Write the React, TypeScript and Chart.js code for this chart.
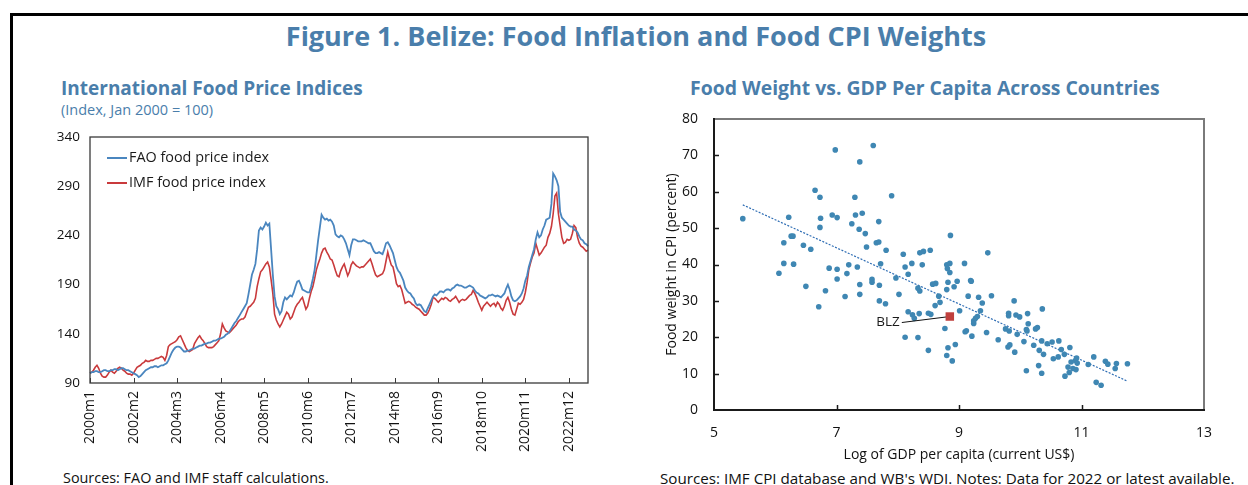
import React, { useEffect, useRef } from "react";
import { Chart, registerables } from "chart.js";

Chart.register(...registerables);

const FONT = "'Open Sans', 'Noto Sans', sans-serif";
const TITLE_BLUE = "#4a7eab";
const FAO_COLOR = "#4a86bf";
const IMF_COLOR = "#c93a3c";
const DOT_COLOR = "#3f87b3";
const TREND_COLOR = "#2e6db4";
const BLZ_COLOR = "#c0403d";

// ---------- Left chart: monthly indices, Jan 2000 = 100 ----------
const yearsCovered = [2000, 2001, 2002, 2003, 2004, 2005, 2006, 2007, 2008, 2009, 2010, 2011, 2012, 2013, 2014, 2015, 2016, 2017, 2018, 2019, 2020, 2021, 2022, 2023];

const faoIndex = [
  100, 101, 101, 102, 102, 101, 101, 102, 103, 103, 102, 102,
  103, 103, 104, 104, 103, 104, 105, 105, 104, 103, 103, 102,
  101, 100, 99, 98, 96, 97, 99, 101, 103, 104, 105, 106,
  106, 107, 107, 106, 107, 108, 108, 109, 110, 113, 117, 121,
  124, 126, 127, 127, 126, 124, 122, 122, 123, 123, 124, 125,
  125, 126, 127, 128, 128, 129, 130, 130, 131, 131, 132, 133,
  133, 134, 135, 135, 136, 137, 139, 140, 142, 145, 148, 151,
  153, 156, 159, 162, 165, 168, 171, 180, 190, 200, 205, 211,
  226, 245, 248, 246, 249, 253, 250, 252, 226, 200, 178, 168,
  165, 160, 163, 172, 177, 175, 177, 179, 178, 182, 188, 193,
  194, 190, 185, 184, 183, 182, 182, 188, 196, 205, 220, 235,
  248, 261, 258, 256, 257, 255, 256, 254, 250, 241, 239, 238,
  240, 239, 236, 232, 226, 220, 230, 236, 236, 235, 234, 234,
  234, 235, 234, 233, 232, 232, 228, 224, 222, 222, 223, 222,
  221, 226, 232, 233, 230, 226, 222, 215, 208, 204, 202, 198,
  194, 187, 184, 182, 181, 178, 176, 171, 169, 170, 169, 166,
  163, 162, 166, 170, 174, 178, 180, 179, 181, 183, 183, 182,
  184, 185, 185, 184, 186, 187, 189, 190, 189, 189, 188, 187,
  187, 188, 189, 188, 187, 184, 182, 181, 179, 178, 177, 176,
  177, 179, 179, 180, 179, 178, 179, 178, 177, 179, 181, 186,
  190, 185, 178, 174, 173, 174, 176, 178, 181, 186, 194, 199,
  208, 214, 220, 226, 236, 243, 238, 240, 246, 250, 256, 257,
  258, 272, 303, 300, 296, 290, 264, 258, 256, 254, 252, 250,
  249, 249, 246, 245, 243, 239, 236, 235, 232, 231, 229,
];

const imfIndex = [
  100, 101, 103, 106, 108, 105, 100, 97, 96, 96, 98, 101,
  103, 101, 100, 102, 105, 106, 105, 103, 102, 100, 99, 99,
  98, 100, 103, 106, 107, 108, 110, 111, 113, 112, 112, 113,
  113, 114, 115, 115, 116, 117, 116, 113, 118, 127, 129, 130,
  131, 132, 134, 137, 138, 134, 130, 126, 123, 122, 123, 124,
  130, 133, 136, 138, 135, 133, 130, 127, 126, 126, 126, 127,
  129, 131, 133, 140, 150, 146, 143, 142, 141, 143, 145, 147,
  149, 152, 154, 155, 155, 157, 162, 167, 168, 170, 172, 176,
  188, 196, 203, 205, 208, 211, 213, 208, 195, 181, 160, 154,
  150, 147, 150, 154, 158, 162, 160, 155, 157, 162, 167, 170,
  172, 175, 177, 171, 165, 168, 176, 183, 188, 196, 205, 211,
  216, 222, 226, 227, 223, 220, 216, 215, 210, 204, 199, 198,
  204, 208, 211, 205, 199, 203, 210, 213, 211, 209, 208, 207,
  208, 208, 210, 212, 214, 216, 211, 205, 200, 198, 199, 200,
  201, 205, 214, 223, 216, 210, 208, 200, 191, 188, 189, 185,
  178, 171, 172, 173, 172, 170, 169, 167, 166, 165, 163, 161,
  159, 159, 161, 165, 170, 177, 176, 174, 172, 174, 176, 175,
  177, 176, 174, 173, 175, 176, 178, 175, 172, 174, 175, 174,
  175, 177, 179, 180, 184, 181, 177, 172, 168, 164, 168, 170,
  172, 170, 168, 170, 171, 168, 172, 170, 166, 164, 168, 174,
  177, 172, 165, 160, 159, 165, 171, 170, 172, 175, 182, 192,
  205, 212, 218, 222, 232, 226, 220, 222, 225, 228, 230, 238,
  242, 249, 262, 280, 283, 262, 250, 238, 232, 233, 236, 235,
  236, 242, 250, 248, 238, 232, 229, 228, 226, 224, 225,
];

const monthLabels: string[] = [];
yearsCovered.forEach((yr) => {
  for (let m = 1; m <= 12; m++) monthLabels.push(`${yr}m${m}`);
});
monthLabels.length = faoIndex.length;
const labelEvery = 25;
const leftYTicks = [90, 140, 190, 240, 290, 340];

// ---------- Right chart: food CPI weight vs log GDP per capita ----------
const gdpLog = [
  5.47, 6.98, 7.60, 7.38, 6.65, 6.73, 7.30, 7.90, 6.22, 6.74,
  6.93, 7.01, 7.31, 7.42, 6.73, 7.25, 7.69, 7.37, 7.47, 6.14,
  6.26, 6.29, 6.46, 6.58, 7.49, 7.65, 7.69, 7.81, 6.14, 6.30,
  6.88, 7.01, 7.20, 7.34, 7.72, 8.09, 8.12, 8.23, 8.36, 8.42,
  8.53, 8.40, 8.80, 8.85, 8.81, 8.86, 9.09, 9.47, 6.06, 6.50,
  6.82, 7.01, 7.17, 7.38, 7.38, 7.14, 6.71, 7.58, 7.58, 7.70,
  7.70, 7.80, 7.97, 8.02, 8.17, 8.33, 8.36, 8.17, 8.24, 8.27,
  8.35, 8.50, 8.54, 8.12, 8.33, 8.50, 8.61, 8.69, 8.57, 8.62,
  8.67, 8.80, 8.82, 8.85, 8.92, 8.97, 9.01, 8.77, 8.82, 8.80,
  8.89, 8.94, 9.10, 9.12, 9.21, 9.15, 9.19, 9.20, 9.24, 9.24,
  9.27, 9.30, 9.32, 9.53, 9.38, 9.35, 9.45, 9.64, 9.76, 9.81,
  9.81, 9.90, 9.93, 9.99, 9.82, 9.95, 9.80, 9.83, 9.91, 10.06,
  10.12, 10.10, 10.11, 10.25, 10.28, 10.22, 10.31, 10.30, 10.10, 10.13,
  10.36, 10.35, 10.35, 10.44, 10.52, 10.63, 10.38, 10.54, 10.62, 10.67,
  10.72, 10.81, 10.78, 10.80, 10.73, 10.83, 10.86, 10.91, 10.90, 10.92,
  10.93, 11.11, 11.20, 11.24, 11.32, 11.39, 11.43, 11.55, 11.57, 11.75,
];
const foodWeight = [
  52.6, 71.5, 72.7, 68.2, 60.4, 58.5, 58.5, 58.9, 53.0, 52.7,
  53.6, 52.9, 53.6, 54.1, 50.2, 51.2, 51.8, 49.7, 48.5, 46.0,
  47.8, 47.8, 45.3, 44.2, 44.8, 46.0, 46.2, 43.9, 40.3, 40.1,
  39.0, 38.7, 39.9, 39.3, 40.2, 42.8, 39.3, 40.3, 43.2, 43.6,
  43.9, 39.9, 39.9, 40.3, 38.9, 48.0, 40.3, 43.2, 37.6, 34.0,
  32.8, 36.0, 37.5, 34.5, 31.8, 31.2, 28.4, 35.9, 35.1, 34.3,
  30.0, 29.2, 36.3, 31.8, 37.3, 33.5, 32.7, 27.0, 26.2, 25.2,
  26.5, 26.6, 26.3, 20.0, 19.9, 16.4, 28.7, 29.6, 34.6, 34.8,
  31.3, 33.1, 35.1, 37.8, 33.9, 35.4, 27.3, 22.4, 17.1, 15.0,
  13.5, 18.0, 21.5, 21.8, 20.3, 31.3, 35.6, 35.4, 23.8, 24.5,
  25.2, 25.7, 31.0, 31.4, 29.4, 27.3, 21.3, 19.3, 22.3, 26.6,
  25.9, 30.0, 26.1, 25.6, 21.7, 20.8, 17.3, 17.9, 15.9, 18.8,
  26.5, 22.1, 21.7, 22.3, 22.7, 17.8, 16.4, 12.2, 10.8, 23.7,
  27.8, 10.1, 19.0, 18.2, 18.7, 19.0, 15.3, 14.1, 14.6, 16.6,
  15.3, 17.2, 11.8, 10.3, 9.3, 13.2, 11.4, 11.1, 13.6, 14.3,
  12.9, 12.5, 14.6, 7.6, 6.8, 13.4, 12.6, 11.4, 12.8, 12.7,
];
const trendX = [5.47, 11.74];
const trendY = [56.4, 8.0];
const blzLabel = "BLZ";
const blzX = 8.85;
const blzY = 25.7;

// ---------- plugins ----------
const leftDecor = {
  id: "leftDecor",
  afterDraw(chart: any) {
    const { ctx, chartArea } = chart;
    const xs = chart.scales.x;
    ctx.save();
    ctx.strokeStyle = "#3a3a3a";
    ctx.lineWidth = 1.3;
    ctx.strokeRect(chartArea.left, chartArea.top, chartArea.right - chartArea.left, chartArea.bottom - chartArea.top);
    ctx.lineWidth = 1;
    ctx.beginPath();
    for (let i = 0; i < monthLabels.length; i += labelEvery) {
      const px = Math.round(xs.getPixelForValue(i)) + 0.5;
      ctx.moveTo(px, chartArea.bottom);
      ctx.lineTo(px, chartArea.bottom - 5);
    }
    ctx.stroke();
    // legend
    const ds = chart.data.datasets;
    ctx.font = `14.4px ${FONT}`;
    ctx.textBaseline = "middle";
    ds.forEach((d: any, k: number) => {
      const y = chartArea.top + 21 + k * 25;
      const x0 = chartArea.left + 17;
      ctx.strokeStyle = d.borderColor;
      ctx.lineWidth = 2;
      ctx.beginPath();
      ctx.moveTo(x0, y);
      ctx.lineTo(x0 + 20, y);
      ctx.stroke();
      ctx.fillStyle = "#1a1a1a";
      ctx.fillText(d.label, x0 + 22, y);
    });
    ctx.restore();
  },
};

const rightDecor = {
  id: "rightDecor",
  afterDraw(chart: any) {
    const { ctx, chartArea } = chart;
    const xs = chart.scales.x;
    const ys = chart.scales.y;
    ctx.save();
    ctx.strokeStyle = "#7a7a7a";
    ctx.lineWidth = 2;
    ctx.beginPath();
    ctx.moveTo(chartArea.left, chartArea.top);
    ctx.lineTo(chartArea.right, chartArea.top);
    ctx.lineTo(chartArea.right, chartArea.bottom);
    ctx.stroke();
    ctx.strokeStyle = "#1a1a1a";
    ctx.beginPath();
    ctx.moveTo(chartArea.left, chartArea.top - 1);
    ctx.lineTo(chartArea.left, chartArea.bottom);
    ctx.lineTo(chartArea.right + 1, chartArea.bottom);
    ctx.stroke();
    ctx.lineWidth = 1.5;
    ctx.beginPath();
    ys.ticks.forEach((t: any) => {
      if (t.value <= ys.min || t.value >= ys.max) return;
      const py = Math.round(ys.getPixelForValue(t.value)) + 0.5;
      ctx.moveTo(chartArea.left, py);
      ctx.lineTo(chartArea.left + 5, py);
    });
    xs.ticks.forEach((t: any) => {
      if (t.value <= xs.min || t.value >= xs.max) return;
      const px = Math.round(xs.getPixelForValue(t.value)) + 0.5;
      ctx.moveTo(px, chartArea.bottom);
      ctx.lineTo(px, chartArea.bottom - 5);
    });
    ctx.stroke();
    // BLZ label
    const bx = xs.getPixelForValue(blzX);
    const by = ys.getPixelForValue(blzY);
    ctx.strokeStyle = "#111";
    ctx.lineWidth = 1;
    ctx.beginPath();
    ctx.moveTo(bx - 48, by + 6);
    ctx.lineTo(bx - 4, by + 0.5);
    ctx.stroke();
    ctx.font = `13.5px ${FONT}`;
    ctx.fillStyle = "#1a1a1a";
    ctx.textAlign = "right";
    ctx.textBaseline = "middle";
    ctx.fillText(blzLabel, bx - 50, by + 6);
    ctx.restore();
  },
};

const noOverflow = (s: any) => {
  s.paddingTop = 0;
  s.paddingBottom = 0;
  s.paddingLeft = 0;
  s.paddingRight = 0;
};

function LeftChart() {
  const ref = useRef<HTMLCanvasElement>(null);
  useEffect(() => {
    if (!ref.current) return;
    const chart = new Chart(ref.current, {
      type: "line",
      data: {
        labels: monthLabels,
        datasets: [
          { label: "FAO food price index", data: faoIndex, borderColor: FAO_COLOR, borderWidth: 1.8, pointRadius: 0, fill: false, tension: 0 },
          { label: "IMF food price index", data: imfIndex, borderColor: IMF_COLOR, borderWidth: 1.6, pointRadius: 0, fill: false, tension: 0 },
        ],
      },
      options: {
        animation: false,
        responsive: false,
        maintainAspectRatio: false,
        layout: { padding: { top: 12, right: 22, left: 0, bottom: 0 } },
        plugins: { legend: { display: false }, tooltip: { enabled: false } },
        scales: {
          x: {
            type: "category",
            grid: { display: false, drawTicks: false },
            border: { display: false },
            ticks: {
              autoSkip: false,
              maxRotation: 90,
              minRotation: 90,
              padding: 8,
              color: "#111",
              font: { family: FONT, size: 14 },
              callback: (_v: any, i: number) => (i % labelEvery === 0 ? monthLabels[i] : null),
            },
            afterFit: (s: any) => {
              noOverflow(s);
              s.height = 80;
            },
          },
          y: {
            min: leftYTicks[0],
            max: leftYTicks[leftYTicks.length - 1],
            grid: { display: false, drawTicks: false },
            border: { display: false },
            afterBuildTicks: (s: any) => {
              s.ticks = leftYTicks.map((v) => ({ value: v }));
            },
            ticks: { padding: 10, color: "#111", font: { family: FONT, size: 13.5 } },
            afterFit: (s: any) => {
              noOverflow(s);
              s.width = 50;
            },
          },
        },
      },
      plugins: [leftDecor],
    });
    return () => chart.destroy();
  }, []);
  return <canvas ref={ref} width={570} height={338} style={{ position: "absolute", left: 40, top: 125, width: 570, height: 338 }} />;
}

function RightChart() {
  const ref = useRef<HTMLCanvasElement>(null);
  useEffect(() => {
    if (!ref.current) return;
    const chart = new Chart(ref.current, {
      type: "scatter",
      data: {
        datasets: [
          { label: blzLabel, data: [{ x: blzX, y: blzY }], pointStyle: "rect", pointRadius: 6, backgroundColor: BLZ_COLOR, borderWidth: 0 },
          {
            label: "Countries",
            data: gdpLog.map((x, i) => ({ x, y: foodWeight[i] })),
            pointRadius: 2.8,
            backgroundColor: DOT_COLOR,
            borderWidth: 0,
          },
          {
            label: "Trend",
            type: "line",
            data: trendX.map((x, i) => ({ x, y: trendY[i] })),
            borderColor: TREND_COLOR,
            borderWidth: 1.2,
            borderDash: [2, 1.5],
            pointRadius: 0,
            showLine: true,
            fill: false,
          } as any,
        ],
      },
      options: {
        animation: false,
        responsive: false,
        maintainAspectRatio: false,
        layout: { padding: { top: 14, right: 36, left: 0, bottom: 0 } },
        plugins: { legend: { display: false }, tooltip: { enabled: false } },
        scales: {
          x: {
            type: "linear",
            min: 5,
            max: 13,
            grid: { display: false, drawTicks: false },
            border: { display: false },
            ticks: { stepSize: 2, padding: 15, color: "#111", font: { family: FONT, size: 14 } },
            title: { display: true, text: "Log of GDP per capita (current US$)", color: "#111", font: { family: FONT, size: 14 }, padding: { top: 0, bottom: 2 } },
            afterFit: (s: any) => {
              noOverflow(s);
              s.height = 55;
            },
          },
          y: {
            type: "linear",
            min: 0,
            max: 80,
            grid: { display: false, drawTicks: false },
            border: { display: false },
            ticks: { stepSize: 10, padding: 16, color: "#111", font: { family: FONT, size: 14 } },
            title: { display: true, text: "Food weight in CPI (percent)", color: "#111", font: { family: FONT, size: 14 }, padding: { top: 9, bottom: 0 } },
            afterFit: (s: any) => {
              noOverflow(s);
              s.width = 59;
            },
          },
        },
      },
      plugins: [rightDecor],
    });
    return () => chart.destroy();
  }, []);
  return <canvas ref={ref} width={585} height={360} style={{ position: "absolute", left: 655, top: 105, width: 585, height: 360 }} />;
}

export default function App() {
  const blue = { color: TITLE_BLUE, fontFamily: FONT, fontWeight: 700, position: "absolute" as const, whiteSpace: "nowrap" as const };
  const note = { color: "#111", fontFamily: FONT, position: "absolute" as const, whiteSpace: "nowrap" as const };
  return (
    <div style={{ position: "fixed", left: 0, top: 0, width: 1248, height: 485, overflow: "hidden", background: "#fff" }}>
      <div style={{ position: "absolute", left: 10, top: 13, width: 1400, height: 700, borderLeft: "3px solid #000", borderTop: "3px solid #000" }} />
      <div style={{ ...blue, left: 0, width: 1272, top: 18, textAlign: "center", fontSize: 27, lineHeight: "36px" }}>
        Figure 1. Belize: Food Inflation and Food CPI Weights
      </div>
      <div style={{ ...blue, left: 61, top: 76, fontSize: 19, lineHeight: "24px" }}>International Food Price Indices</div>
      <div style={{ ...blue, fontWeight: 400, left: 61, top: 101, fontSize: 14.5, lineHeight: "18px" }}>(Index, Jan 2000 = 100)</div>
      <div style={{ ...blue, left: 690, top: 76, fontSize: 19.4, lineHeight: "24px" }}>Food Weight vs. GDP Per Capita Across Countries</div>
      <LeftChart />
      <RightChart />
      <div style={{ ...note, left: 63, top: 469, fontSize: 14.4, lineHeight: "18px" }}>Sources: FAO and IMF staff calculations.</div>
      <div style={{ ...note, left: 660, top: 469, fontSize: 15.2, lineHeight: "18px" }}>Sources: IMF CPI database and WB's WDI. Notes: Data for 2022 or latest available.</div>
    </div>
  );
}
